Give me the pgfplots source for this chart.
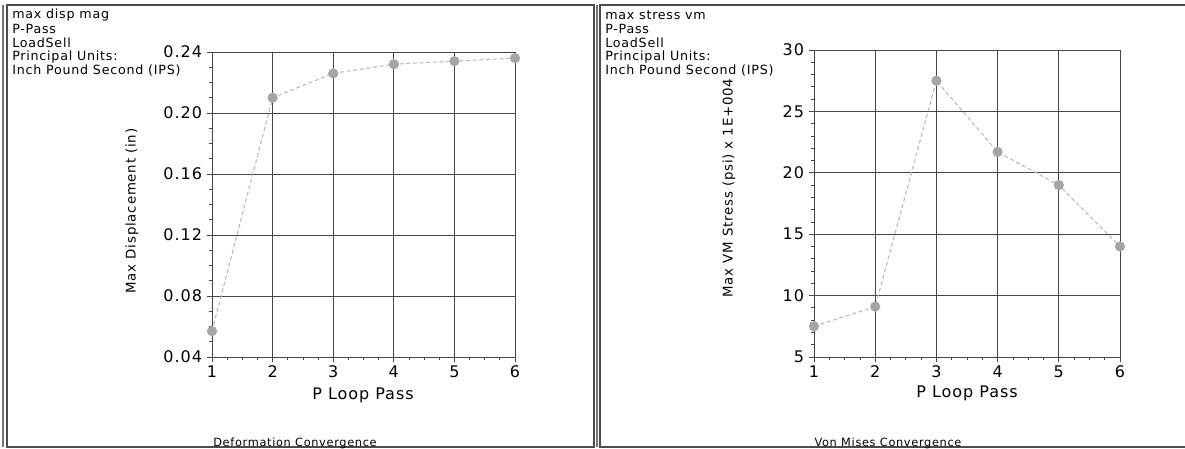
\documentclass[border=0pt]{standalone}
\usepackage{fontspec}
\setmainfont{DejaVu Sans}[LetterSpace=6]
\usepackage{pgfplots}
\pgfplotsset{compat=1.18}
\definecolor{gridc}{RGB}{70,70,70}
\definecolor{linec}{RGB}{185,185,185}
\definecolor{markc}{RGB}{165,165,165}
\pgfplotsset{
  convstyle/.style={
    scale only axis,
    xmin=1, xmax=6,
    xtick={1,2,3,4,5,6},
    minor x tick num=3,
    grid=major,
    major grid style={gridc, line width=0.6pt},
    axis line style={gridc, line width=0.7pt},
    every tick/.style={gridc, line width=0.6pt},
    major tick length=4pt,
    minor tick length=2pt,
    tick align=outside,
    tick pos=left,
    /pgf/number format/assume math mode=true,
    tick label style={font=\fontsize{12}{13}\selectfont},
    xticklabel style={yshift=1pt},
  }
}
\begin{document}
\begin{tikzpicture}[x=0.75pt,y=0.75pt]
\path[use as bounding box] (0,0) rectangle (1185,449);
% frames
\draw[line width=1pt, black!70] (7,2) rectangle (594,444);
\draw[line width=0.8pt, black!55] (3,2) -- (3,444);
\draw[line width=0.8pt, black!55] (597,2) -- (597,444);
\draw[line width=1pt, black!70] (1185,444) -- (600,444) -- (600,2) -- (1185,2);
% headers
\begin{scope}[every node/.style={anchor=west, inner sep=0pt, font=\fontsize{9.5}{11}\selectfont}]
\node at (12,434) {max disp mag};
\node at (12,420) {P-Pass};
\node at (12,406) {LoadSell};
\node at (12,392) {Principal Units:};
\node at (12,378) {Inch Pound Second (IPS)};
\node at (605,434) {max stress vm};
\node at (605,420) {P-Pass};
\node at (605,406) {LoadSell};
\node at (605,392) {Principal Units:};
\node at (605,378) {Inch Pound Second (IPS)};
\end{scope}
% left axis
\begin{axis}[convstyle,
  at={(159pt,69pt)}, anchor=south west,
  width=227.25pt, height=228.75pt,
  ymin=0.04, ymax=0.24,
  ytick={0.04,0.08,0.12,0.16,0.20,0.24},
  yticklabels={0.04,0.08,0.12,0.16,0.20,0.24},
  minor y tick num=3,
]
\addplot[densely dashed, linec, line width=0.8pt, mark=*, mark size=3.4pt,
  mark options={solid, fill=markc, draw=markc}]
  coordinates {(1,0.057) (2,0.210) (3,0.226) (4,0.232) (5,0.234) (6,0.236)};
\end{axis}
% right axis
\begin{axis}[convstyle,
  at={(610.5pt,69pt)}, anchor=south west,
  width=229.5pt, height=230.25pt,
  ymin=5, ymax=30,
  ytick={5,10,15,20,25,30},
  minor y tick num=4,
]
\addplot[densely dashed, linec, line width=0.8pt, mark=*, mark size=3.4pt,
  mark options={solid, fill=markc, draw=markc}]
  coordinates {(1,7.5) (2,9.1) (3,27.5) (4,21.7) (5,19.0) (6,14.0)};
\end{axis}
% labels
\node[rotate=90, font=\fontsize{10}{12}\selectfont] at (132,238) {Max Displacement (in)};
\node[rotate=90, font=\fontsize{10}{12}\selectfont] at (729,261) {Max VM Stress (psi) x 1E+004};
\node[font=\fontsize{12}{13}\selectfont] at (363,54) {P Loop Pass};
\node[font=\fontsize{12}{13}\selectfont] at (967,56) {P Loop Pass};
\node[font=\fontsize{8.5}{10}\selectfont] at (295,6) {Deformation Convergence};
\node[font=\fontsize{8.5}{10}\selectfont] at (888,6) {Von Mises Convergence};
\end{tikzpicture}
\end{document}
